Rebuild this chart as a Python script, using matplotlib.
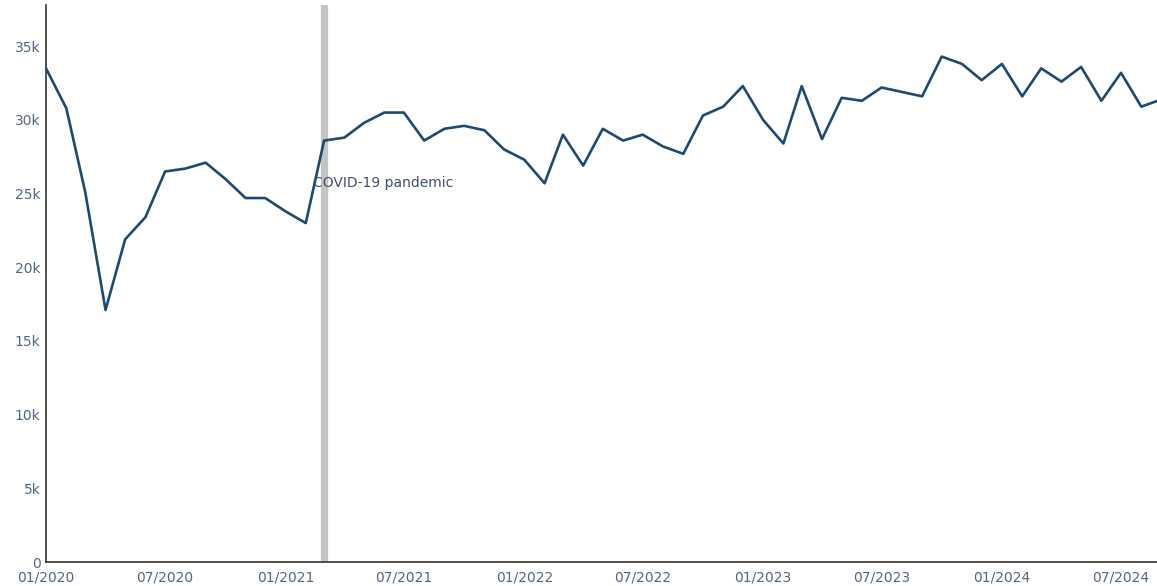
import numpy as np
import pandas as pd
import matplotlib
matplotlib.use('Agg')
import matplotlib.pyplot as plt
import matplotlib.dates as mdates
from matplotlib.ticker import FuncFormatter

# monthly values, 01/2020 .. 09/2024
months = pd.date_range('2020-01-01', '2024-09-01', freq='MS')
values = [
    33500, 30800, 25100, 17100, 21900, 23400, 26500, 26700, 27100, 26000, 24700, 24700,
    23800, 23000, 28600, 28800, 29800, 30500, 30500, 28600, 29400, 29600, 29300, 28000,
    27300, 25700, 29000, 26900, 29400, 28600, 29000, 28200, 27700, 30300, 30900, 32300,
    30000, 28400, 32300, 28700, 31500, 31300, 32200, 31900, 31600, 34300, 33800, 32700,
    33800, 31600, 33500, 32600, 33600, 31300, 33200, 30900, 31400,
]
pandemic_date = pd.Timestamp('2021-03-01')
pandemic_label = 'COVID-19 pandemic'

line_color = '#1c4a72'
tick_color = '#506784'

fig = plt.figure(figsize=(11.57, 5.86), dpi=100)
ax = fig.add_axes([46 / 1157, 24 / 586, 1 - 46 / 1157, 557 / 586])

ax.axvline(pandemic_date, color='#c4c4c4', lw=5.2, zorder=1)
ax.plot(months, values, color=line_color, lw=1.9, zorder=3)
ax.annotate(pandemic_label, xy=(pandemic_date, 25700), xytext=(-11, 0),
            textcoords='offset pixels', ha='left', va='center',
            fontsize=10, color='#3d4f6e', zorder=4)

ax.set_xlim(pd.Timestamp('2020-01-01'), pd.Timestamp('2024-08-25'))
ax.set_ylim(0, 37800)

ax.xaxis.set_major_locator(mdates.MonthLocator(bymonth=[1, 7]))
ax.xaxis.set_major_formatter(mdates.DateFormatter('%m/%Y'))
ax.yaxis.set_major_locator(plt.MultipleLocator(5000))
ax.yaxis.set_major_formatter(FuncFormatter(lambda v, p: '0' if v == 0 else f'{int(v / 1000)}k'))

ax.tick_params(axis='both', length=0, labelsize=10, labelcolor=tick_color)
ax.tick_params(axis='y', pad=4)
ax.tick_params(axis='x', pad=6)

for s in ['top', 'right']:
    ax.spines[s].set_visible(False)
for s in ['left', 'bottom']:
    ax.spines[s].set_color('#333333')
    ax.spines[s].set_linewidth(1.2)

fig.savefig('out.png', dpi=100)
